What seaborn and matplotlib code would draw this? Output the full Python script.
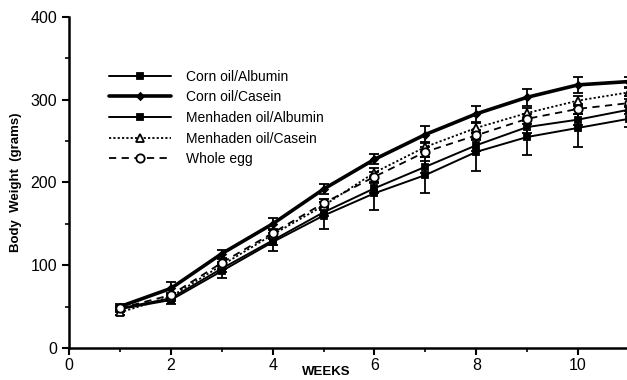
import matplotlib
matplotlib.use("Agg")
import matplotlib.pyplot as plt
import seaborn as sns
import numpy as np
import pandas as pd

weeks = [1, 2, 3, 4, 5, 6, 7, 8, 9, 10, 11]
corn_albumin = [48, 60, 96, 130, 164, 193, 219, 245, 267, 276, 288]
corn_casein = [50, 72, 114, 150, 192, 228, 258, 283, 303, 318, 322]
menhaden_albumin = [47, 58, 93, 128, 160, 187, 209, 237, 255, 266, 277]
menhaden_casein = [43, 62, 100, 137, 172, 212, 243, 266, 284, 299, 309]
whole_egg = [48, 64, 103, 139, 175, 207, 237, 257, 277, 289, 296]

corn_casein_err = [3, 8, 5, 7, 6, 6, 10, 10, 10, 10, 6]
menhaden_albumin_err = [3, 5, 8, 11, 16, 20, 22, 23, 22, 23, 10]
corn_albumin_err = [2, 3, 4, 5, 5, 6, 7, 7, 7, 7, 5]
menhaden_casein_err = [3, 3, 4, 5, 5, 6, 6, 6, 6, 6, 5]
whole_egg_err = [3, 3, 4, 5, 5, 6, 6, 6, 6, 6, 5]

labels = ["Corn oil/Albumin", "Corn oil/Casein", "Menhaden oil/Albumin",
          "Menhaden oil/Casein", "Whole egg"]

sns.set_theme(style="ticks")
plt.rcParams['font.family'] = ['Liberation Sans', 'DejaVu Sans']

fig = plt.figure(figsize=(6.27, 3.8), dpi=100)
ax = fig.add_axes([69/627, 32/380, 558/627, 331/380])

series = [
    (labels[0], corn_albumin, corn_albumin_err, dict(marker="s", lw=1.4, ls="-", ms=5, mfc="black")),
    (labels[1], corn_casein, corn_casein_err, dict(marker="D", lw=2.6, ls="-", ms=3.5, mfc="black")),
    (labels[2], menhaden_albumin, menhaden_albumin_err, dict(marker="s", lw=1.4, ls="-", ms=5, mfc="black")),
    (labels[3], menhaden_casein, menhaden_casein_err, dict(marker="^", lw=1.3, ls=(0, (1.2, 1.2)), ms=6, mfc="white")),
    (labels[4], whole_egg, whole_egg_err, dict(marker="o", lw=1.3, ls=(0, (4, 3)), ms=6, mfc="white")),
]

for name, vals, err, st in series:
    ax.errorbar(weeks, vals, yerr=err, fmt="none", ecolor="black", elinewidth=1.3,
                capsize=3.5, capthick=1.3, zorder=2)
    sns.lineplot(x=weeks, y=vals, ax=ax, color="black", label=name,
                 marker=st["marker"], linewidth=st["lw"], linestyle=st["ls"],
                 markersize=st["ms"], markerfacecolor=st["mfc"],
                 markeredgecolor="black", markeredgewidth=1.3, zorder=3)

ax.set_xlim(0, 10.96)
ax.set_ylim(0, 400)
ax.set_xticks([0, 2, 4, 6, 8, 10])
ax.set_xticks([1, 3, 5, 7, 9], minor=True)
ax.set_yticks([0, 100, 200, 300, 400])
ax.set_yticks([50, 150, 250, 350], minor=True)
ax.tick_params(axis="both", which="major", length=5, width=1.5, labelsize=11.5, color="black",
               labelcolor="black")
ax.tick_params(axis="x", which="major", pad=2)
ax.tick_params(axis="both", which="minor", length=3, width=1.2, color="black")
for sp in ["top", "right"]:
    ax.spines[sp].set_visible(False)
for sp in ["left", "bottom"]:
    ax.spines[sp].set_linewidth(1.8)
    ax.spines[sp].set_color("black")

ax.set_xlabel("")
ax.set_ylabel("Body  Weight  (grams)", fontsize=9.5, fontweight="bold", labelpad=6, color="black")
ax.text(5.05, -0.072, "WEEKS", transform=ax.get_xaxis_transform(), ha="center",
        va="center", fontsize=9.5, fontweight="bold", color="black")

leg = ax.legend(loc="upper left", bbox_to_anchor=(0.06, 0.862), frameon=False,
                fontsize=10, handlelength=4.4, handletextpad=1.1, labelspacing=0.48,
                borderpad=0, numpoints=1)
for t in leg.get_texts():
    t.set_color("black")

fig.savefig("out.png", dpi=100)
